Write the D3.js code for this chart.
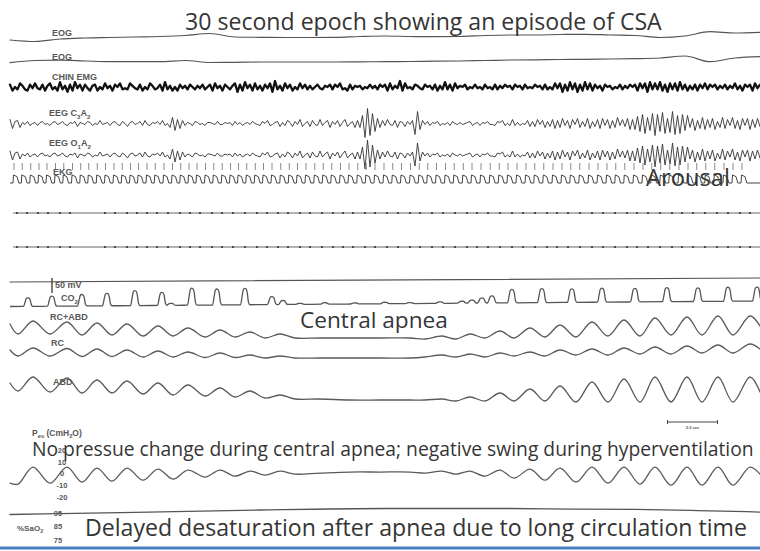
<!DOCTYPE html>
<html>
<head>
<meta charset="utf-8">
<script src="https://cdn.jsdelivr.net/npm/d3@7"></script>
<style>
  html, body { margin: 0; padding: 0; background: #fff; }
  svg { display: block; }
  .lbl { font-family: "Liberation Sans", Arial, sans-serif; font-weight: bold; fill: #585858; }
  .note { font-family: "Open Sans", "Noto Sans", sans-serif; fill: #353535; }
</style>
</head>
<body>
<svg id="chart" width="760" height="551"></svg>
<script>
// ---------- Polysomnography epoch: 30 s ----------
const epoch = [0, 30];

// EOG channels, one sample per second (µV, up positive)
const eogTimes = d3.range(0, 31);
const eog1 = [-2, -3.5, -1, 0, 0.5, 1, 1.5, 2.5, 4.5, 1, 0.7, 0.5, 0.5, 0.7, 1.5, 2, 1.5, 1.3, 1.5, 2.5, 3, 3, 3.5, 3.7, 3, 2.5, 0.5, 2, 6.3, 5, 5.7];
const eog2 = [-0.7, 1.5, 1.8, 1, 0.3, 0.3, 0.3, 1.5, -0.5, -0.3, 0, 0, 0, 0, 0.2, 0.3, 0.5, 0.8, 1, 1.5, 2, 2.2, 2.5, 2.7, 3, 3.3, 4, 6, 0.3, 4, 5.3];

// Chin EMG, 10 samples per second
const emg = [
  2,-3,0,-2,3,1,-2,-3,2,-1, 3,-1,-2,2,-3,1,3,-2,0,-3, 4,-2,1,-4,2,-3,4,-1,2,-3, 2,-1,-3,1,2,-3,0,-2,3,-1,
  1,-3,2,0,3,-2,-1,-2,3,1, -1,-2,2,-3,0,-2,3,1,-2,-1, 2,-3,4,-2,1,-3,0,-3,2,-1, 1,-2,2,0,-2,1,-1,2,-2,0,
  2,-3,3,-1,1,-3,2,0,-2,1, 3,-4,2,-3,4,-1,2,-3,3,-2, 1,-3,2,-1,3,-4,5,-2,1,-3, 3,-1,2,-3,0,-2,3,-1,2,-2,
  1,-2,0,2,-1,-2,1,0,2,-2, 2,0,3,-2,-1,-3,2,-2,1,0, 1,-2,0,-1,2,-1,1,-2,2,0, 2,-3,3,-2,1,-1,5,-3,3,-1,
  0,-2,2,1,-1,-2,2,0,1,-2, 2,-3,1,-2,4,-2,2,-3,3,-1, 1,0,2,-2,0,-1,2,-1,0,-2, 2,-1,0,-2,2,-2,1,-1,2,0,
  1,-2,2,0,1,-2,2,-1,0,-1, 2,0,1,-2,2,-2,0,-2,3,-1, 3,-4,2,-3,4,-2,3,-4,2,-3, 4,-2,3,-3,2,-1,1,-3,2,0,
  1,-2,0,-1,2,-2,1,-1,2,0, 2,-3,3,-1,3,-4,4,-2,3,-2, 4,-3,2,-4,3,-2,3,-3,4,-2, 2,-3,1,-2,2,-3,2,-1,3,-2,
  2,0,2,-2,1,-1,2,-2,1,-1, 3,-2,1,-3,2,0,2,-3,3,-1, 2
];

// EEG (C3A2 and O1A2 show the same activity), 10 samples per second
const eeg = [
  4,-5,2,3,-4,1,-1,2,-2,0, 1,-2,1,2,-1,0,-2,1,2,-1, 0,2,-1,-2,1,0,2,-3,1,0, -1,2,1,-2,0,-1,3,-1,0,1,
  -2,1,2,-1,-2,2,0,-3,1,2, -1,0,2,-2,3,-1,-2,1,0,2, -1,3,-2,0,-4,6,-7,4,-5,3, -2,1,0,-2,2,1,-1,0,-2,1,
  1,0,-1,2,-1,-1,1,0,1,-2, 2,-1,1,-2,0,1,-1,2,0,-1, -2,2,0,3,-2,-1,1,2,-3,1, -2,3,1,-3,2,-1,4,-3,0,2,
  -3,3,-1,-2,4,-2,1,3,-4,2, -1,3,-3,1,4,-3,0,2,-4,3, -4,8,-14,15,-12,10,-8,5,-4,3, -2,4,-1,-2,3,-4,2,1,-3,2,
  -1,3,-11,12,-6,3,-1,2,-2,1, 0,2,-2,0,-1,1,-2,2,0,-1, 1,-1,0,1,2,-2,0,1,-2,1, 0,2,-1,-1,-2,2,1,3,-2,0,
  -2,4,-2,1,-2,0,-1,3,-3,2, -3,4,-1,3,-4,2,-3,4,-5,3, -4,5,-2,3,-5,4,-1,5,-4,2, -3,5,-5,2,-3,4,-5,5,-2,4,
  -5,3,-4,6,-2,4,-3,5,-6,4, -6,7,-8,9,-10,6,-7,10,-12,9, -8,11,-10,5,-9,12,-11,8,-10,9, -7,8,-4,5,-7,3,-5,6,-6,4,
  -4,5,-6,2,-4,6,-5,4,-2,6, -5,3,-6,5,-2,5,-6,4,-4,5, -3
];

// EKG: R-R intervals (s), first beat at 0.12 s
const firstBeat = 0.12;
const rrIntervals = [
  0.33,0.34,0.33,0.32,0.34,0.33,0.35,0.33,0.32,0.34, 0.33,0.34,0.33,0.33,0.32,0.34,0.33,0.35,0.34,0.33,
  0.33,0.32,0.34,0.33,0.34,0.33,0.32,0.33,0.34,0.33, 0.34,0.35,0.34,0.33,0.34,0.35,0.34,0.34,0.35,0.34,
  0.35,0.34,0.35,0.36,0.35,0.35,0.36,0.35,0.34,0.35, 0.36,0.35,0.36,0.35,0.36,0.37,0.36,0.35,0.36,0.36,
  0.35,0.36,0.37,0.36,0.35,0.36,0.37,0.36,0.36,0.35, 0.36,0.37,0.36,0.35,0.36,0.36,0.37,0.36,0.35,0.36,
  0.36,0.37,0.36,0.36,0.35
];

// Marker ticks on the two flat channels (s)
const markerTimes = [0.28,0.68,1.12,1.52,2.0,2.4,3.8,4.2,4.68,5.08,5.48,5.88,6.32,6.8,7.2,7.6,8.08,8.48,8.92,9.4,
  9.88,10.28,10.72,11.12,11.6,12.0,12.48,12.92,13.32,13.72,14.2,14.6,15.08,15.52,16.0,16.4,16.88,17.32,17.8,18.28,
  18.68,19.12,19.6,20.08,20.52,21.0,21.48,21.88,22.32,22.8,23.28,23.72,24.2,24.68,25.08,25.52,26.0,26.48,26.88,27.32,
  27.8,28.28,28.72,29.2,29.6];

// Calibration line level at start / end of epoch
const calTimes = [0, 30];
const calLevel = [0, 4];

// Expired CO2: breath times (s) and peak heights
const co2Times = [0.72,1.68,2.88,3.88,5.0,6.08,6.44,7.28,8.28,9.4, 10.48,10.92,11.6,12.6,13.8,15.0,16.0,17.2,18.08,18.48,
  18.88,19.28,20.08,21.28,22.48,23.68,25.0,26.28,27.52,28.72, 29.88];
const co2Heights = [8.5,10,11.5,12.5,15,13,2,17,16,16.5, 8,4,1,1.5,1,1.5,1,1.5,2,3, 5,7,13.5,14,13.5,14,13.5,14,13.5,14, 14];
const co2Baseline = [0, 5.5];

// Respiratory effort: turning points of each breath (s)
const breathT = [0,0.32,0.92,1.6,2.28,2.88,3.48,4.08,4.68,5.32, 5.92,6.52,7.12,7.8,8.4,9.0,9.6,10.2,10.8,11.4,
  12.4,13.6,14.8,16.0, 16.6,17.28,17.84,18.4,19.0,19.6,20.16,20.8,21.4,22.0, 22.64,23.28,23.92,24.56,25.2,25.8,26.44,27.08,27.68,28.32,
  28.92,29.6,30];
const rcAbd = [14,4,17,4,16,3,15,3,14,2, 12,2,10,1,8,1,6,0,4,0, 0,0,0,0, -1,2,-1,4,0,7,0,10,1,13, 1,16,2,18,2,20,3,21,3,22, 3,22,12];
const rc    = [8,2,10,2,9.5,1.5,9,1.5,8,1, 7,1,6,0.5,5,0.5,3,0,2,0, 0,0,0,0, 1,3,1,4,1,5,2,6,2,8, 3,9,3,10,4,11,4,12,5,13, 5,14,9];
const abd   = [17,9,23,8,22,7,20,7,19,6, 17,5,15,4,12,3,9,2,5,1, 1,0,0,0, 0,1,-1,3,-1,7,-1,11,-1,14, -2,18,-2,21,-2,23,-2,23,-2,23, -2,23,8];
// Esophageal pressure (cmH2O)
const pes   = [-8,-8.8,5.7,-8,5.7,-7.1,4.9,-6.3,4.9,-5.4, 4,-4.5,3.2,-2.8,3.2,-2,2.3,-1.1,2.3,-0.3, 0.6,1.5,1.5,1.5,
  0.6,2.3,-0.3,2.3,-2,3.2,-3.7,4,-5.4,4.9, -7.1,5.7,-8,5.7,-8.8,5.7,-9.7,5.7,-9.7,5.7, -9.7,5.7,-0.3];
const pesTicks = [20, 10, 0, -10, -20];

// Oxygen saturation (%)
const sao2Times = [0, 5, 10, 15, 20, 22.5, 25, 27.5, 30];
const sao2 = [93.9, 95.4, 97.2, 98.3, 98.3, 97.9, 97.6, 96.8, 95.7];
const sao2Ticks = [95, 85, 75, 65];

const scaleBarSeconds = 2;

// ---------- drawing ----------
const svg = d3.select('#chart');
svg.append('rect').attr('width', 760).attr('height', 551).attr('fill', '#fff');

const x = d3.scaleLinear().domain(epoch).range([10, 760]);
// channel scale: value units -> px around a baseline
const chan = (base, gain) => d3.scaleLinear().domain([-1, 1]).range([base + gain, base - gain]);
const breathCurve = d3.curveCatmullRom.alpha(0.5);

function trace(times, values, y, color, width, curve) {
  const line = d3.line()
    .x((d, i) => x(times[i]))
    .y(d => y(d))
    .curve(curve || d3.curveLinear);
  svg.append('path').datum(values)
    .attr('d', line)
    .attr('fill', 'none')
    .attr('stroke', color)
    .attr('stroke-width', width)
    .attr('stroke-linejoin', 'round')
    .attr('stroke-linecap', 'round');
}

// EOG
trace(eogTimes, eog1, chan(38, 1), '#555', 1.2, d3.curveMonotoneX);
trace(eogTimes, eog2, chan(62, 1), '#555', 1.2, d3.curveMonotoneX);

// EMG
const tenHz = d3.range(301).map(i => i / 10);
trace(tenHz, emg, chan(87, 1.2), '#111', 2.3);

// EEG
trace(tenHz, eeg, chan(123.5, 1), '#333', 0.9);
trace(tenHz, eeg, chan(155, 1), '#333', 0.9);

// EKG
const beats = [];
rrIntervals.reduce((t, rr) => { if (t <= 30) beats.push(t); return t + rr; }, firstBeat);
const ekgBase = 183, ekgAmp = 8;
const ekgPts = [[x(0), ekgBase]];
beats.forEach(b => {
  const bx = x(b);
  ekgPts.push([bx, ekgBase], [bx + 0.5, ekgBase - ekgAmp], [bx + 4, ekgBase - ekgAmp * 0.8], [bx + 5.8, ekgBase]);
});
ekgPts.push([x(30), ekgBase]);
svg.append('path').attr('d', d3.line()(ekgPts))
  .attr('fill', 'none').attr('stroke', '#444').attr('stroke-width', 1);
svg.append('g').selectAll('line').data(beats).join('line')
  .attr('x1', d => x(d) + 1).attr('x2', d => x(d) + 1)
  .attr('y1', 163).attr('y2', 170)
  .attr('stroke', '#8a8a8a').attr('stroke-width', 1);

// flat channels with marker ticks
[213, 247].forEach(yy => {
  svg.append('line').attr('x1', x(0.12)).attr('x2', x(30)).attr('y1', yy).attr('y2', yy)
    .attr('stroke', '#666').attr('stroke-width', 1);
  svg.append('g').selectAll('circle').data(markerTimes).join('circle')
    .attr('cx', d => x(d)).attr('cy', yy).attr('r', 1.1).attr('fill', '#333');
});

// calibration line
trace(calTimes, calLevel, d3.scaleLinear().domain([0, 1]).range([282, 281]), '#555', 1.2);
svg.append('line').attr('x1', 52).attr('x2', 52).attr('y1', 278).attr('y2', 293)
  .attr('stroke', '#444').attr('stroke-width', 1.4);

// CO2
const yCO2 = chan(306.5, 1);
const co2Drift = d3.scaleLinear().domain(epoch).range(co2Baseline);
const shapeDx = [-4.5, -2.8, -1.8, -0.5, 1, 2.2, 3.5, 5];
const shapeF  = [0, 0.55, 0.9, 1, 0.97, 0.75, 0.15, 0];
const co2Pts = [[x(0), yCO2(co2Drift(0))]];
co2Times.forEach((t, i) => {
  shapeDx.forEach((dx, k) => {
    const px = x(t) + dx;
    const tt = x.invert(px);
    co2Pts.push([px, yCO2(co2Drift(tt) + co2Heights[i] * shapeF[k])]);
  });
});
co2Pts.push([x(30) + 6, yCO2(co2Drift(30))]);
svg.append('path').attr('d', d3.line().curve(d3.curveMonotoneX)(co2Pts))
  .attr('fill', 'none').attr('stroke', '#555').attr('stroke-width', 1.3);

// respiratory effort
trace(breathT, rcAbd, chan(338, 1), '#5a5a5a', 1.3, breathCurve);
trace(breathT, rc, chan(358, 1), '#5a5a5a', 1.3, breathCurve);
trace(breathT, abd, chan(400, 1), '#5a5a5a', 1.3, breathCurve);

// esophageal pressure
const yPes = d3.scaleLinear().domain([-20, 20]).range([497.3, 450.3]);
trace(breathT, pes, yPes, '#5a5a5a', 1.3, breathCurve);

// SaO2
const ySat = d3.scaleLinear().domain([65, 95]).range([554, 513]);
trace(sao2Times, sao2, ySat, '#555', 1.3, d3.curveMonotoneX);

// scale bar
const sb0 = 26.3;
svg.append('line').attr('x1', x(sb0)).attr('x2', x(sb0 + scaleBarSeconds)).attr('y1', 422).attr('y2', 422)
  .attr('stroke', '#444').attr('stroke-width', 1);
[sb0, sb0 + scaleBarSeconds].forEach(t => svg.append('line')
  .attr('x1', x(t)).attr('x2', x(t)).attr('y1', 420).attr('y2', 424)
  .attr('stroke', '#444').attr('stroke-width', 1));
svg.append('text').attr('class', 'lbl').attr('x', x(sb0 + scaleBarSeconds / 2)).attr('y', 429)
  .attr('text-anchor', 'middle').attr('font-size', 4).text(scaleBarSeconds.toFixed(1) + ' sec');

// bottom rule
svg.append('line').attr('x1', 0).attr('x2', 760).attr('y1', 548).attr('y2', 548)
  .attr('stroke', '#4a7ec5').attr('stroke-width', 2.8);

// ---------- labels ----------
const LBL = 9;
function label(px, py, parts, size) {
  size = size || LBL;
  const t = svg.append('text').attr('class', 'lbl').attr('x', px).attr('y', py).attr('font-size', size);
  parts.forEach(p => {
    if (typeof p === 'string') t.append('tspan').text(p);
    else t.append('tspan').attr('baseline-shift', -size * 0.28).attr('font-size', size * 0.68).text(p.sub);
  });
  return t;
}
label(52, 35.5, ['EOG']);
label(52, 59.5, ['EOG']);
label(52, 80, ['CHIN EMG']);
label(49, 116, ['EEG C', {sub: '3'}, 'A', {sub: '2'}]);
label(49, 146, ['EEG O', {sub: '1'}, 'A', {sub: '2'}]);
label(53, 175, ['EKG']);
label(55, 288, ['50 mV']);
label(61, 301, ['CO', {sub: '2'}]);
label(50, 320, ['RC+ABD']);
label(51, 346, ['RC']);
label(53, 385, ['ABD']);
label(32, 436, ['P', {sub: 'es'}, ' (CmH', {sub: '2'}, 'O)'], 8.5);
label(17, 531, ['%SaO', {sub: '2'}], 8);

svg.append('g').selectAll('text').data(pesTicks).join('text')
  .attr('class', 'lbl').attr('font-size', 7.5).attr('text-anchor', 'middle')
  .attr('x', 62).attr('y', d => yPes(d) + 2.6).text(d => d);
svg.append('g').selectAll('text').data(sao2Ticks).join('text')
  .attr('class', 'lbl').attr('font-size', 7.5).attr('text-anchor', 'middle')
  .attr('x', 58).attr('y', d => ySat(d) + 2.6).text(d => d);

// annotations, sized to their spans
function note(px, py, width, str) {
  const t = svg.append('text').attr('class', 'note').attr('x', px).attr('y', py).attr('font-size', 20).text(str);
  const len = t.node().getComputedTextLength();
  t.attr('font-size', 20 * width / len);
  return t;
}
note(185, 29.5, 477, '30 second epoch showing an episode of CSA');
note(646, 186, 84, 'Arousal');
note(300, 328, 148, 'Central apnea');
note(32, 456, 722, 'No pressue change during central apnea; negative swing during hyperventilation');
note(85, 536, 662, 'Delayed desaturation after apnea due to long circulation time');
</script>
</body>
</html>
